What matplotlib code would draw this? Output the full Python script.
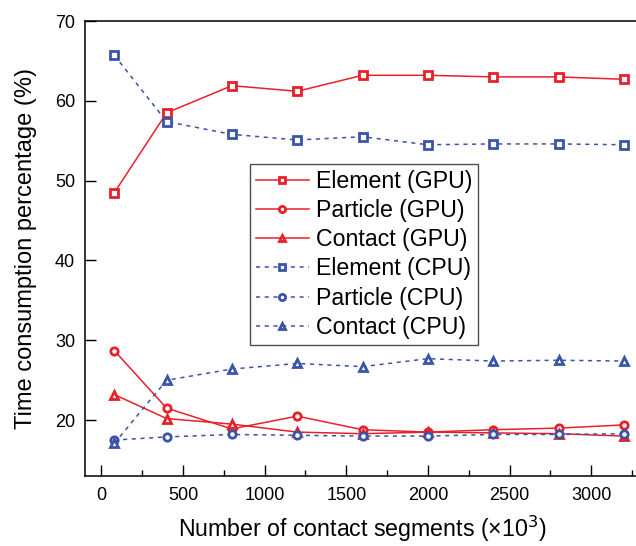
import matplotlib
matplotlib.use("Agg")
import matplotlib.pyplot as plt
from matplotlib.ticker import MultipleLocator

plt.rcParams['font.family'] = ['Liberation Sans', 'DejaVu Sans']

# contact segments (x10^3)
segments = [80, 400, 800, 1200, 1600, 2000, 2400, 2800, 3200]

# time consumption percentage (%)
element_gpu = [48.5, 58.5, 61.9, 61.2, 63.2, 63.2, 63.0, 63.0, 62.7]
particle_gpu = [28.7, 21.5, 18.9, 20.5, 18.8, 18.5, 18.8, 19.0, 19.4]
contact_gpu = [23.2, 20.2, 19.5, 18.5, 18.3, 18.5, 18.4, 18.3, 18.0]
element_cpu = [65.7, 57.4, 55.8, 55.1, 55.5, 54.5, 54.6, 54.6, 54.5]
particle_cpu = [17.5, 17.9, 18.2, 18.1, 18.0, 18.0, 18.2, 18.2, 18.3]
contact_cpu = [17.1, 25.0, 26.4, 27.1, 26.7, 27.7, 27.4, 27.5, 27.4]

red = '#e8202a'
blue = '#3a55a8'

fig = plt.figure(figsize=(6.36, 5.46), dpi=100)
ax = fig.add_axes([0.1336, 0.1282, 0.873, 0.8333])

dash = (0, (2.7, 3))
series = [
    (element_gpu, 's', red, '-', 'Element (GPU)'),
    (particle_gpu, 'o', red, '-', 'Particle (GPU)'),
    (contact_gpu, '^', red, '-', 'Contact (GPU)'),
    (element_cpu, 's', blue, dash, 'Element (CPU)'),
    (particle_cpu, 'o', blue, dash, 'Particle (CPU)'),
    (contact_cpu, '^', blue, dash, 'Contact (CPU)'),
]
for vals, mk, col, ls, lab in series:
    ax.plot(segments, vals, color=col, linestyle=ls, linewidth=1.1,
            marker=mk, markersize=5.3, markerfacecolor='white',
            markeredgewidth=2.0, markeredgecolor=col, label=lab)

ax.set_xlim(-100, 3300)
ax.set_ylim(13, 70)
ax.xaxis.set_major_locator(MultipleLocator(500))
ax.xaxis.set_minor_locator(MultipleLocator(250))
ax.yaxis.set_major_locator(MultipleLocator(10))
ax.tick_params(which='both', direction='in', labelsize=13, top=False, right=False)
ax.tick_params(which='major', length=8, width=1)
ax.tick_params(which='minor', length=4, width=1)
ax.tick_params(axis='x', pad=8)
ax.tick_params(axis='y', pad=7)
for sp in ax.spines.values():
    sp.set_linewidth(1.1)

ax.set_xlabel('Number of contact segments (×10$^3$)', fontsize=16.7, labelpad=7)
ax.set_ylabel('Time consumption percentage (%)', fontsize=17, labelpad=13)

leg = ax.legend(loc='upper left', bbox_to_anchor=(0.297, 0.686), fontsize=16.7,
                frameon=True, fancybox=False, edgecolor='#222222',
                handlelength=2.3, markerscale=0.85, labelspacing=0.27,
                borderpad=0.25, handletextpad=0.3, borderaxespad=0)
leg.get_frame().set_linewidth(1.0)

fig.savefig('out.png', dpi=100)
